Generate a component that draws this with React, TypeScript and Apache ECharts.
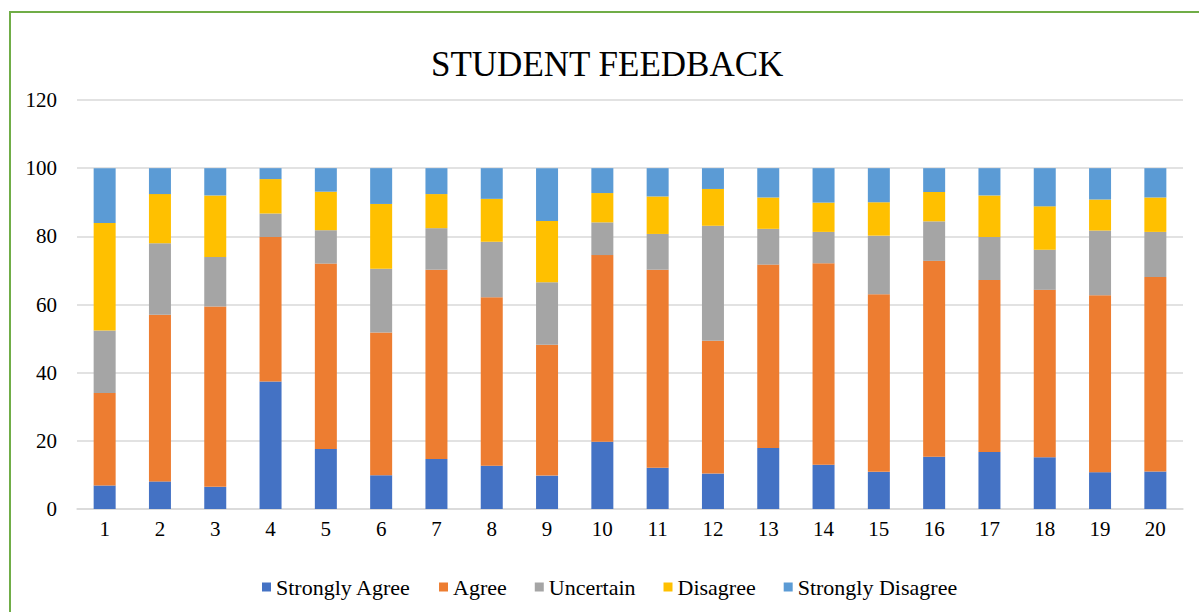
import React, { useEffect, useRef } from "react";
import * as echarts from "echarts";

const categories = ["1","2","3","4","5","6","7","8","9","10","11","12","13","14","15","16","17","18","19","20"];
const stronglyAgree = [6.9, 8.1, 6.5, 37.4, 17.6, 9.9, 14.7, 12.7, 9.8, 19.7, 12.1, 10.4, 17.9, 13.0, 10.9, 15.3, 16.7, 15.2, 10.8, 11.0];
const agree = [27.1, 48.9, 52.9, 42.4, 54.4, 41.9, 55.5, 49.4, 38.4, 54.8, 58.1, 39.0, 53.8, 59.1, 52.1, 57.5, 50.5, 49.1, 51.9, 57.1];
const uncertain = [18.4, 21.0, 14.5, 6.9, 9.8, 18.7, 12.2, 16.3, 18.3, 9.6, 10.5, 33.7, 10.5, 9.2, 17.2, 11.6, 12.6, 11.8, 19.0, 13.2];
const disagree = [31.5, 14.4, 18.1, 10.1, 11.3, 19.0, 10.0, 12.6, 18.0, 8.6, 11.0, 10.8, 9.2, 8.6, 9.8, 8.6, 12.2, 12.7, 9.1, 10.1];
const stronglyDisagree = [16.1, 7.6, 8.0, 3.2, 6.9, 10.5, 7.6, 9.0, 15.5, 7.3, 8.3, 6.1, 8.6, 10.1, 10.0, 7.0, 8.0, 11.2, 9.2, 8.6];
const yTicks = [0, 20, 40, 60, 80, 100, 120];

const seriesDefs = [
  { name: "Strongly Agree", data: stronglyAgree, color: "#4472C4" },
  { name: "Agree", data: agree, color: "#ED7D31" },
  { name: "Uncertain", data: uncertain, color: "#A5A5A5" },
  { name: "Disagree", data: disagree, color: "#FFC000" },
  { name: "Strongly Disagree", data: stronglyDisagree, color: "#5B9BD5" },
];

const FONT = "Liberation Serif";

export default function App() {
  const ref = useRef<HTMLDivElement>(null);
  useEffect(() => {
    if (!ref.current) return;
    const chart = echarts.init(ref.current, null, { renderer: "svg" });
    chart.setOption({
      animation: false,
      backgroundColor: "#ffffff",
      title: {
        text: "STUDENT FEEDBACK",
        left: 426,
        top: 42,
        textStyle: { fontFamily: FONT, fontSize: 35, fontWeight: "normal", color: "#000000" },
      },
      graphic: [
        {
          type: "rect",
          shape: { x: 10, y: 12, width: 1250, height: 700 },
          style: { fill: "none", stroke: "#70AD47", lineWidth: 2 },
          silent: true,
          z: -1,
        },
      ],
      legend: {
        top: 571,
        left: 257,
        itemWidth: 9,
        itemHeight: 9,
        itemGap: 28,
        icon: "rect",
        textStyle: { fontFamily: FONT, fontSize: 22, color: "#000000" },
        data: seriesDefs.map((s) => s.name),
      },
      grid: { left: 77, right: 16, top: 100, bottom: 103, containLabel: false },
      xAxis: {
        type: "category",
        data: categories,
        axisLine: { show: true, lineStyle: { color: "#d9d9d9", width: 1.5 } },
        axisTick: { show: false },
        axisLabel: { fontFamily: FONT, fontSize: 21, color: "#000000", margin: 9 },
      },
      yAxis: {
        type: "value",
        min: yTicks[0],
        max: yTicks[yTicks.length - 1],
        interval: 20,
        axisLine: { show: false },
        axisTick: { show: false },
        splitLine: { lineStyle: { color: "#d9d9d9", width: 1.5 } },
        axisLabel: { fontFamily: FONT, fontSize: 21, color: "#000000", margin: 20 },
      },
      series: seriesDefs.map((s) => ({
        name: s.name,
        type: "bar",
        stack: "total",
        barWidth: 22,
        data: s.data,
        itemStyle: { color: s.color },
      })),
    });
    return () => chart.dispose();
  }, []);
  return (
    <div
      ref={ref}
      style={{ position: "fixed", left: 0, top: 0, width: 1199, height: 612 }}
    />
  );
}
